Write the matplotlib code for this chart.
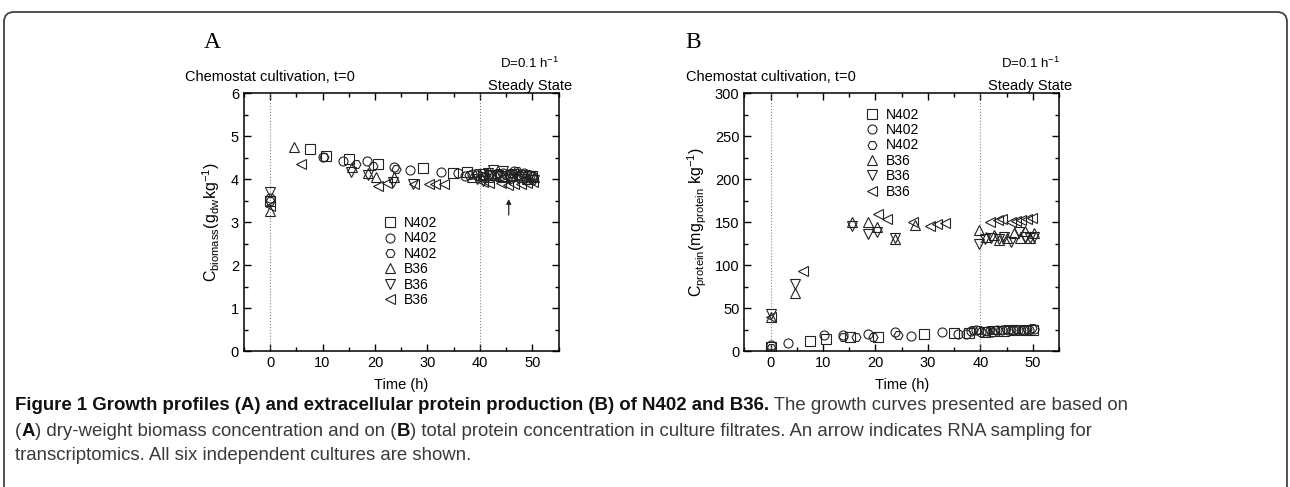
import numpy as np
import matplotlib
matplotlib.use('Agg')
import matplotlib.pyplot as plt
from matplotlib.patches import FancyBboxPatch

# --- data ---
labels = ['N402', 'N402', 'N402', 'B36', 'B36', 'B36']
markers = ['s', 'o', 'H', '^', 'v', '<']

# panel A: dry weight biomass (g/kg)
a_t_sq = [0, 7.7, 10.6, 15, 20.5, 29.1, 34.9, 37.5, 40.5, 42, 44, 46, 48, 50]
a_v_sq = [3.5, 4.71, 4.53, 4.46, 4.35, 4.25, 4.13, 4.17, 4.12, 4.1, 4.08, 4.1, 4.05, 4.07]
a_t_c1 = [0, 10.1, 13.9, 18.5, 23.7, 26.7, 32.6, 35.8, 37.2, 38.5, 39.5, 40.5, 41.5, 43, 44.5, 45.5, 46.5, 47.5, 48.5, 49.5]
a_v_c1 = [3.57, 4.51, 4.41, 4.41, 4.27, 4.21, 4.17, 4.13, 4.08, 4.12, 4.1, 4.05, 4.1, 4.12, 4.15, 4.12, 4.18, 4.1, 4.13, 4.1]
a_t_c2 = [0, 10.3, 16.3, 19.6, 24.1, 38, 39.5, 40.8, 42, 43.5, 45, 46, 47, 48, 49, 50.2]
a_v_c2 = [3.5, 4.52, 4.35, 4.31, 4.23, 4.1, 4.13, 4.08, 4.12, 4.15, 4.1, 4.15, 4.18, 4.12, 4.12, 4.08]
a_t_up = [0, 4.5, 15.6, 18.6, 20.2, 23.6, 38.5, 40, 41.5, 43, 44.5, 46, 47.5, 49, 50.3]
a_v_up = [3.25, 4.74, 4.27, 4.13, 4.04, 4.05, 4.05, 4.1, 4.05, 4.1, 4.05, 4.08, 4.1, 4.0, 4.05]
a_t_dn = [0, 15.5, 18.75, 23.5, 27.2, 39.5, 40.5, 41.5, 42.5, 43.5, 44.5, 45.5, 46.5, 47.5, 48.5, 49.5, 50.3]
a_v_dn = [3.7, 4.17, 4.1, 3.92, 3.88, 4.0, 3.95, 4.15, 4.2, 4.1, 4.18, 4.0, 4.12, 4.05, 4.0, 4.08, 3.97]
a_t_lt = [0, 5.85, 20.5, 22.2, 27.5, 30.3, 31.4, 33.1, 40.5, 41.8, 44, 45.3, 46.5, 47.8, 49, 50.2]
a_v_lt = [3.38, 4.35, 3.84, 3.9, 3.88, 3.88, 3.88, 3.88, 3.93, 3.9, 3.9, 3.87, 3.88, 3.88, 3.9, 3.93]

# panel B: total protein (mg/kg)
b_t_sq = [0, 7.6, 10.5, 15.2, 20.5, 29.2, 35, 37.8, 40.8, 42.5, 44.5, 46.5, 48.5, 50]
b_v_sq = [5, 11.6, 14.3, 17, 17, 19.4, 20.5, 21, 22, 23, 23, 24, 24, 25]
b_t_c1 = [0, 3.3, 10.2, 13.9, 18.6, 23.8, 26.7, 32.6, 35.8, 37.2, 38.2, 39.2, 40.2, 41.2, 42.2, 43.2, 44.2, 45.2, 46.2, 47.2, 48.2, 49.2, 50.2]
b_v_c1 = [6.6, 9.3, 18.2, 19, 20, 21.7, 17.4, 22, 20, 19.8, 23, 24, 22, 23, 22, 24, 24, 25, 24, 24, 25, 24, 26]
b_t_c2 = [0, 13.9, 16.3, 19.5, 24.3, 38.5, 39.8, 40.8, 41.8, 42.8, 43.8, 44.8, 45.8, 46.8, 47.8, 48.8, 49.8]
b_v_c2 = [4, 16.5, 16.3, 17, 18.2, 24, 25, 23, 24, 25, 24, 26, 25, 26, 25, 26, 27]
b_t_up = [0, 4.6, 15.5, 18.5, 20.3, 23.7, 27.6, 39.7, 41, 42.5, 43.5, 45, 46.5, 47.5, 48.5, 49.5, 50.2]
b_v_up = [40, 67.4, 150, 150, 144, 130, 147, 141, 133, 135, 129, 132, 137, 131, 140, 131, 137]
b_t_dn = [0, 4.6, 15.5, 18.5, 20.3, 23.7, 39.7, 40.8, 42, 43.5, 44.5, 45.8, 47.3, 48.5, 49.5, 50.3]
b_v_dn = [43.4, 77.5, 146, 135.7, 138, 132, 125, 130, 132, 130, 133, 127, 138, 133, 132, 133]
b_t_lt = [0, 6.1, 20.4, 22.2, 27.2, 30.4, 31.7, 33.2, 41.9, 43.4, 44.2, 45.9, 46.8, 47.8, 48.8, 49.9]
b_v_lt = [40, 92.6, 159.7, 154, 149.6, 145, 148, 149, 150, 152, 154, 150, 151, 152, 154, 155]

a_series = [(a_t_sq, a_v_sq), (a_t_c1, a_v_c1), (a_t_c2, a_v_c2),
            (a_t_up, a_v_up), (a_t_dn, a_v_dn), (a_t_lt, a_v_lt)]
b_series = [(b_t_sq, b_v_sq), (b_t_c1, b_v_c1), (b_t_c2, b_v_c2),
            (b_t_up, b_v_up), (b_t_dn, b_v_dn), (b_t_lt, b_v_lt)]

# arrow = RNA sampling time
arrow_t = 45.5

plt.rcParams['font.family'] = ['Liberation Sans', 'DejaVu Sans']
plt.rcParams['mathtext.fontset'] = 'custom'
plt.rcParams['mathtext.rm'] = 'Liberation Sans'
plt.rcParams['mathtext.it'] = 'Liberation Sans'

W, H = 1290, 487
fig = plt.figure(figsize=(W / 100, H / 100), dpi=100)


def px(x, y):
    return x / W, 1 - y / H


def setup_axes(ax, ymax, ymaj, ymin):
    ax.set_xlim(-5, 55)
    ax.set_ylim(0, ymax)
    ax.set_xticks(np.arange(0, 51, 10))
    ax.set_xticks(np.arange(-5, 56, 5), minor=True)
    ax.set_yticks(np.arange(0, ymax + 0.01, ymaj))
    ax.set_yticks(np.arange(0, ymax + 0.01, ymin), minor=True)
    ax.tick_params(which='both', direction='in', top=True, right=True, labelsize=10.5, width=1)
    ax.tick_params(which='major', length=5)
    ax.tick_params(which='minor', length=3)
    for s in ax.spines.values():
        s.set_linewidth(1.1)
    ax.axvline(0, color='#888888', lw=0.8, ls=':')
    ax.axvline(40, color='#888888', lw=0.8, ls=':')
    ax.set_xlabel('Time (h)', fontsize=10.5, labelpad=6)
    ax.text(0, ymax * 1.035, 'Chemostat cultivation, t=0', ha='center', va='bottom', fontsize=10.5)
    ax.text(49.5, ymax * 1.0, 'Steady State', ha='center', va='bottom', fontsize=10.5)
    ax.text(49.5, ymax * 1.085, 'D=0.1 h$^{-1}$', ha='center', va='bottom', fontsize=9.5)


def draw(ax, series, anchor):
    for (t, v), m, lab in zip(series, markers, labels):
        ax.plot(t, v, ls='none', marker=m, ms=6.5, mfc='none', mec='#222222', mew=0.8, label=lab)
    ax.legend(loc='upper left', bbox_to_anchor=anchor, frameon=False, fontsize=10,
              labelspacing=0.1, handletextpad=0.4, handlelength=1.2, borderaxespad=0)


axA = fig.add_axes([0.189, 0.279, 0.244, 0.530])
setup_axes(axA, 6, 1, 0.5)
draw(axA, a_series, (0.42, 0.545))
axA.set_ylabel(r'C$_{\mathrm{biomass}}$(g$_{\mathrm{dw}}$kg$^{-1}$)', fontsize=11.5, labelpad=6)
axA.annotate('', xy=(arrow_t, 3.6), xytext=(arrow_t, 3.1),
             arrowprops=dict(arrowstyle='-|>', color='#222222', lw=0.9, mutation_scale=7))

axB = fig.add_axes([0.577, 0.279, 0.244, 0.530])
setup_axes(axB, 300, 50, 25)
draw(axB, b_series, (0.36, 0.965))
axB.set_ylabel(r'C$_{\mathrm{protein}}$(mg$_{\mathrm{protein}}$ kg$^{-1}$)', fontsize=11.5, labelpad=4)

# panel letters
fig.text(*px(212, 43), 'A', fontsize=17, family=['Liberation Serif', 'DejaVu Serif'], ha='center', va='center')
fig.text(*px(693, 43), 'B', fontsize=17, family=['Liberation Serif', 'DejaVu Serif'], ha='center', va='center')

# caption with mixed bold / regular runs
cap_font = ['Liberation Sans', 'DejaVu Sans']
cap_lines = [
    [('Figure 1 Growth profiles (A) and extracellular protein production (B) of N402 and B36.', 'bold'),
     (' The growth curves presented are based on', 'normal')],
    [('(', 'normal'), ('A', 'bold'),
     (') dry-weight biomass concentration and on (', 'normal'), ('B', 'bold'),
     (') total protein concentration in culture filtrates. An arrow indicates RNA sampling for', 'normal')],
    [('transcriptomics. All six independent cultures are shown.', 'normal')],
]
cap_y = [406, 431, 456]
renderer = fig.canvas.get_renderer()
for parts, yy in zip(cap_lines, cap_y):
    x = 15
    for s, w in parts:
        col = '#111111' if w == 'bold' else '#3a3a3a'
        t = fig.text(*px(x, yy), s, fontsize=13.4, fontweight=w, family=cap_font,
                     ha='left', va='center', color=col)
        x += t.get_window_extent(renderer).width

# rounded outer frame
frame = FancyBboxPatch((4, -30), 1283, 505, boxstyle='round,pad=0,rounding_size=10',
                       transform=None, fill=False, ec='#444444', lw=1.3)
fig.patches.append(frame)

fig.savefig('out.png', dpi=100)
